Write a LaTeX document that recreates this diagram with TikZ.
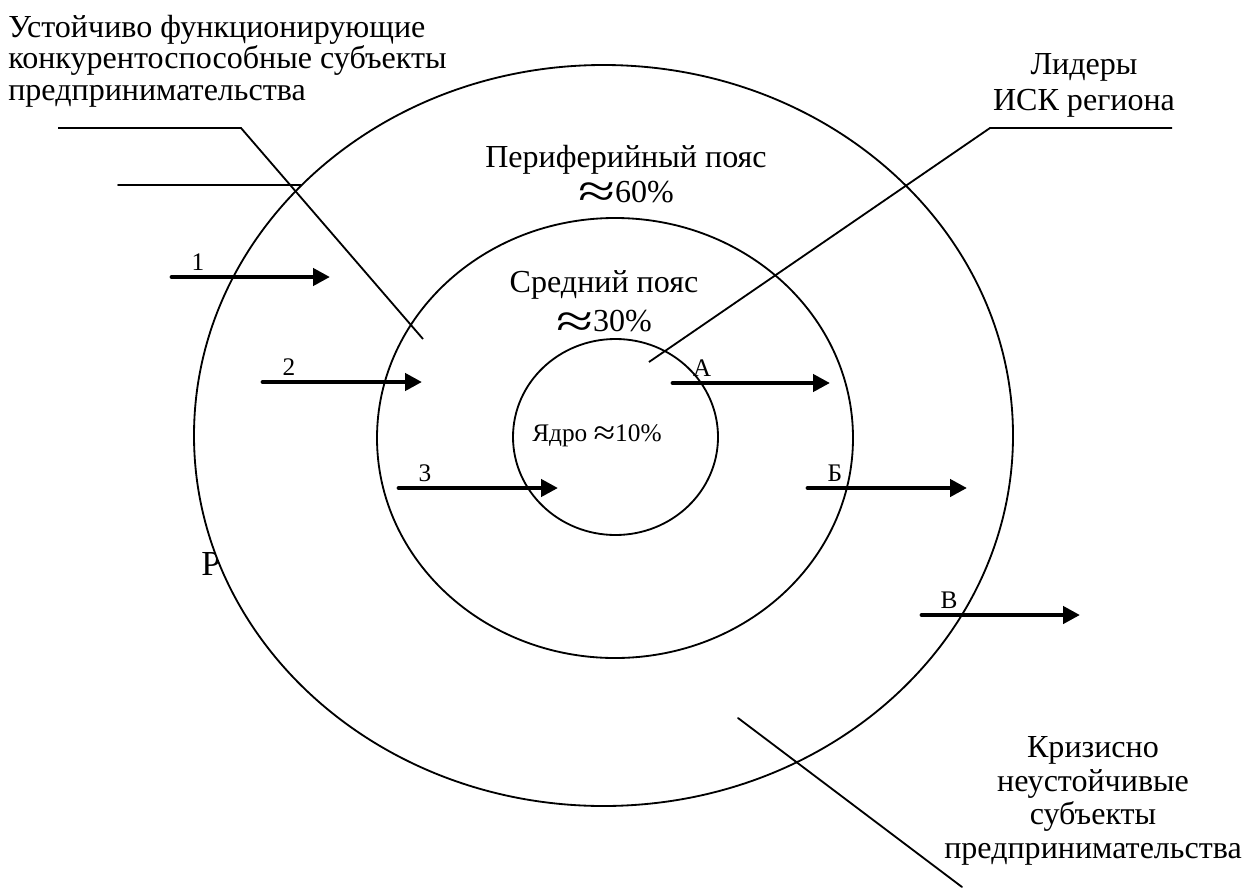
\documentclass[tikz,border=0pt]{standalone}
\usepackage{fontspec}
\setmainfont{Liberation Serif}
\usepackage{graphicx}
\usepackage{tkz-euclide}
\usetikzlibrary{arrows.meta}
\newcommand\apx[3]{\raisebox{#3}{\scalebox{#1}[#2]{≈}}}
\tikzset{
  belt/.style={line width=1.3pt},
  flow/.style={line width=3.5pt,-{Triangle[length=12pt,width=12pt]}},
  txt/.style={inner sep=0pt,font=\fontsize{22.8}{22.4}\selectfont},
  lbl/.style={inner sep=0pt,anchor=base,font=\fontsize{18}{20}\selectfont}
}

\begin{document}
\begin{tikzpicture}[x=.025cm,y=-.025cm]
\useasboundingbox (0,0) rectangle (1246,887);
\tkzSetUpLine[line width=1.3pt,color=black]

\tkzDefPoints{603.5/435.5/Oo,615/438/Om,615.5/437/Oi}
\tkzDefPoints{172/277/S1,330/277/E1,263/382/S2,422/382/E2,399/488/S3,558/488/E3}
\tkzDefPoints{673/383/SA,830/383/EA,808/488/SB,967/488/EB,922/615/SV,1080/615/EV}
\tkzDefPoints{58/128/L1,241/128/L2,423/339/L3,118/185/L4,301/185/L5}
\tkzDefPoints{1172/128/R1,990/128/R2,649/362/R3,738/718/K1,962/887/K2}

% text hidden behind the outer belt
\node[inner sep=0pt,anchor=base west,font=\fontsize{25}{26}\selectfont] (rr) at (201,575) {Р};
\fill[white] (Oo) ellipse [x radius=409.5, y radius=370.5];

\draw[belt] (Oo) ellipse [x radius=409.5, y radius=370.5];
\draw[belt] (Om) ellipse [x radius=238, y radius=220];
\draw[belt] (Oi) ellipse [x radius=102.5, y radius=98];

\draw[belt] (L1) -- (L2) -- (L3);
\draw[belt] (R1) -- (R2) -- (R3);
\tkzDrawSegments(L4,L5 K1,K2)

\tkzDrawSegments[flow](S1,E1 S2,E2 S3,E3 SA,EA SB,EB SV,EV)

\node[lbl] (n1) at ([shift={(26,-7)}]S1) {1};
\node[lbl] (n2) at ([shift={(26,-7)}]S2) {2};
\node[lbl] (n3) at ([shift={(26,-7)}]S3) {3};
\node[lbl] (nA) at ([shift={(29,-7)}]SA) {А};
\node[lbl] (nB) at ([shift={(27,-7)}]SB) {Б};
\node[lbl] (nV) at ([shift={(27,-7)}]SV) {В};

\node[txt,anchor=north west,align=left] (stable) at (8,14.6)
  {Устойчиво функционирующие\\конкурентоспособные субъекты\\предпринимательства};
\node[txt,anchor=north,align=center,font=\fontsize{22.8}{24.9}\selectfont] (outer) at (626,144.6)
  {Периферийный пояс\\\apx{2.1}{1.5}{-.17em}60\%};
\node[txt,anchor=north,align=center,font=\fontsize{22.8}{27.7}\selectfont] (middle) at (604,270.6)
  {Средний пояс\\\apx{2.1}{1.5}{-.17em}30\%};
\node[lbl,anchor=base west] (core) at (532,441) {Ядро \apx{1.55}{1.37}{-.12em}10\%};
\node[txt,anchor=north,align=center,font=\fontsize{22.8}{25.6}\selectfont] (lead) at (1084,53)
  {Лидеры\\ИСК региона};
\node[txt,anchor=north,align=center,font=\fontsize{22.8}{24}\selectfont] (crisis) at (1093,736)
  {Кризисно\\неустойчивые\\субъекты\\предпринимательства};

\end{tikzpicture}
\end{document}
